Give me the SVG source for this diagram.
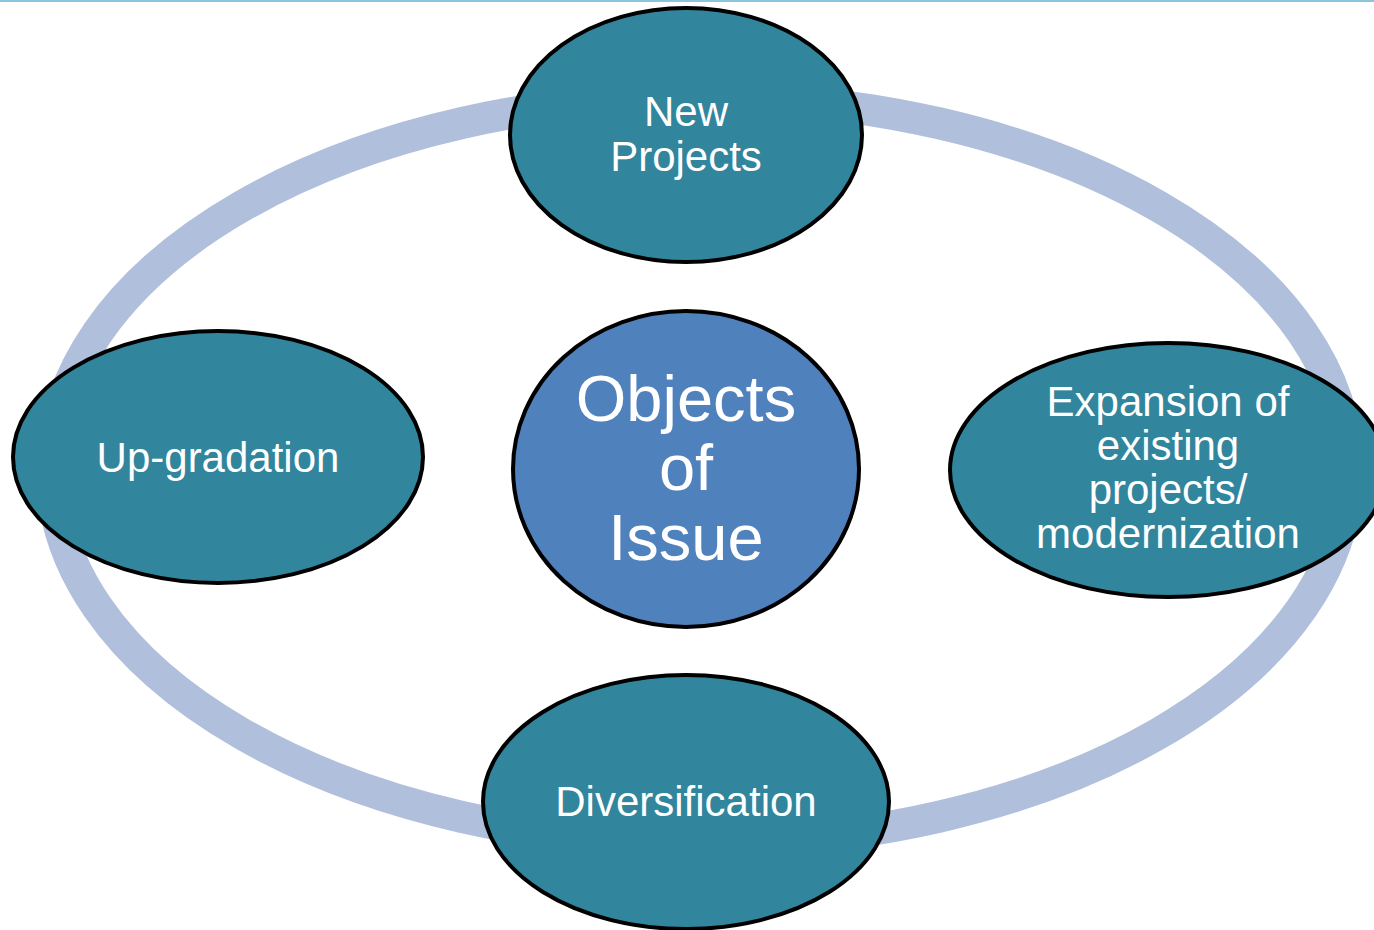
<svg xmlns="http://www.w3.org/2000/svg" width="1374" height="930" viewBox="0 0 1374 930">
<style>
.node{fill:#31859c;stroke:#000;stroke-width:4}
.ctr{fill:#4f81bd;stroke:#000;stroke-width:4}
text{font-family:"Liberation Sans",Arial,sans-serif;fill:#fff;text-anchor:middle}
.t{font-size:42px}
.big{font-size:65px}
</style>
<rect x="0" y="0" width="1374" height="930" fill="#fff"/>
<line x1="0" y1="1" x2="1374" y2="1" stroke="#8cc4de" stroke-width="2"/>
<g id="connectors">
<ellipse cx="700" cy="470" rx="648" ry="373" fill="none" stroke="#b0c0dc" stroke-width="32"/>
</g>
<g id="new-projects">
<ellipse class="node" cx="686" cy="135" rx="176" ry="127"/>
<text class="t" x="686" y="126">New</text>
<text class="t" x="686" y="171">Projects</text>
</g>
<g id="up-gradation">
<ellipse class="node" cx="218" cy="457" rx="205" ry="126"/>
<text class="t" x="218" y="472">Up-gradation</text>
</g>
<g id="objects-of-issue">
<ellipse class="ctr" cx="686" cy="469" rx="173" ry="158"/>
<text class="big" x="686" y="421">Objects</text>
<text class="big" x="686" y="490">of</text>
<text class="big" x="686" y="560">Issue</text>
</g>
<g id="expansion">
<ellipse class="node" cx="1168" cy="470" rx="218" ry="127"/>
<text class="t" x="1168" y="416">Expansion of</text>
<text class="t" x="1168" y="460">existing</text>
<text class="t" x="1168" y="504">projects/</text>
<text class="t" x="1168" y="548">modernization</text>
</g>
<g id="diversification">
<ellipse class="node" cx="686" cy="802" rx="203" ry="127"/>
<text class="t" x="686" y="816">Diversification</text>
</g>
</svg>
